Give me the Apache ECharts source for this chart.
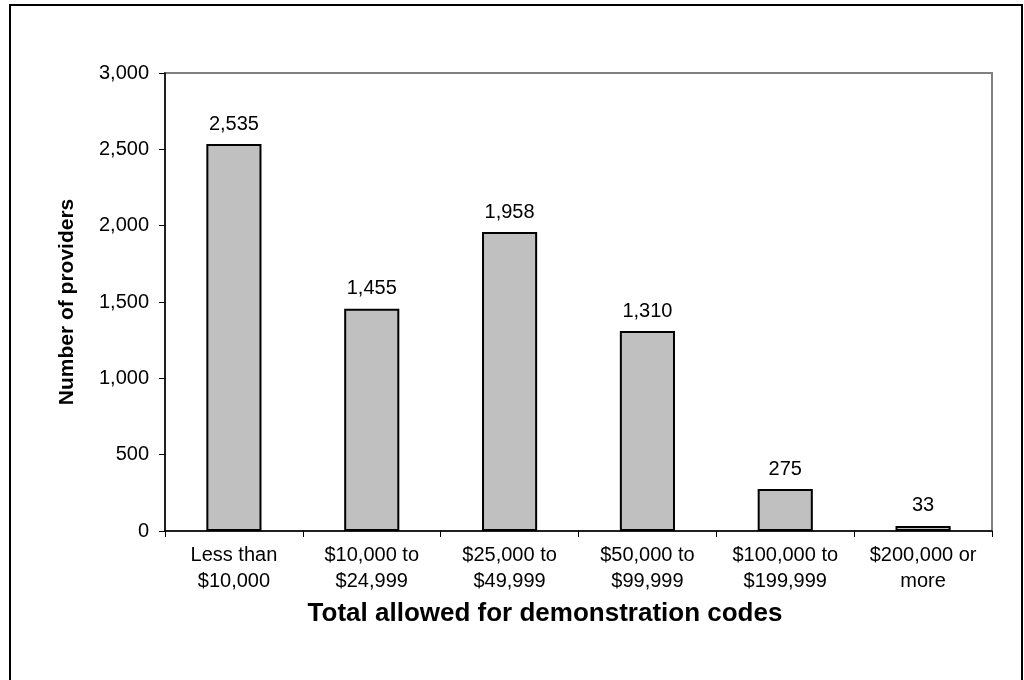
<!DOCTYPE html>
<html><head><meta charset="utf-8">
<script src="https://cdn.jsdelivr.net/npm/echarts@6/dist/echarts.min.js"></script>
<style>html,body{margin:0;padding:0;background:#fff}#c{width:1024px;height:680px}</style>
</head><body><div id="c"></div>
<script>
const categories = ["Less than\n$10,000", "$10,000 to\n$24,999", "$25,000 to\n$49,999", "$50,000 to\n$99,999", "$100,000 to\n$199,999", "$200,000 or\nmore"];
const providers = [2535, 1455, 1958, 1310, 275, 33];
const yTitle = "Number of providers";
const xTitle = "Total allowed for demonstration codes";

const FONT = 'Liberation Sans, Arial, sans-serif';
const chart = echarts.init(document.getElementById('c'), null, {renderer: 'canvas'});
const fmt = v => v.toLocaleString('en-US');
chart.setOption({
  animation: false,
  textStyle: {fontFamily: FONT},
  grid: {left: 165, right: 32, top: 73, bottom: 149, show: true, borderColor: '#808080', borderWidth: 2, backgroundColor: '#fff'},
  graphic: [
    {type: 'rect', shape: {x: 10, y: 5, width: 1012, height: 700}, style: {fill: 'none', stroke: '#000', lineWidth: 2}, z: 100},
    {type: 'text', x: 545, y: 614, style: {text: xTitle, fontFamily: FONT, fontSize: 26, fontWeight: 'bold', fill: '#000', textAlign: 'center', textVerticalAlign: 'middle'}}
  ],
  xAxis: {
    type: 'category', data: categories,
    axisLine: {lineStyle: {color: '#000', width: 1.5}},
    axisTick: {show: true, length: 6, lineStyle: {color: '#000'}},
    axisLabel: {fontSize: 20, color: '#000', lineHeight: 26, margin: 11, interval: 0}
  },
  yAxis: {
    type: 'value', min: 0, max: 3000, interval: 500,
    name: yTitle, nameLocation: 'middle', nameGap: 87,
    nameTextStyle: {fontSize: 21, fontWeight: 'bold', color: '#000'},
    axisLine: {show: true, lineStyle: {color: '#000', width: 1.5}},
    axisTick: {show: true, length: 6, lineStyle: {color: '#000'}},
    axisLabel: {fontSize: 20, color: '#000', margin: 16, formatter: fmt},
    splitLine: {show: false}
  },
  series: [{
    type: 'bar', data: providers, barWidth: '40%',
    itemStyle: {color: '#c0c0c0', borderColor: '#000', borderWidth: 2},
    label: {show: true, position: 'top', distance: 10, fontSize: 20, color: '#000', formatter: p => fmt(p.value)}
  }]
});
</script></body></html>
